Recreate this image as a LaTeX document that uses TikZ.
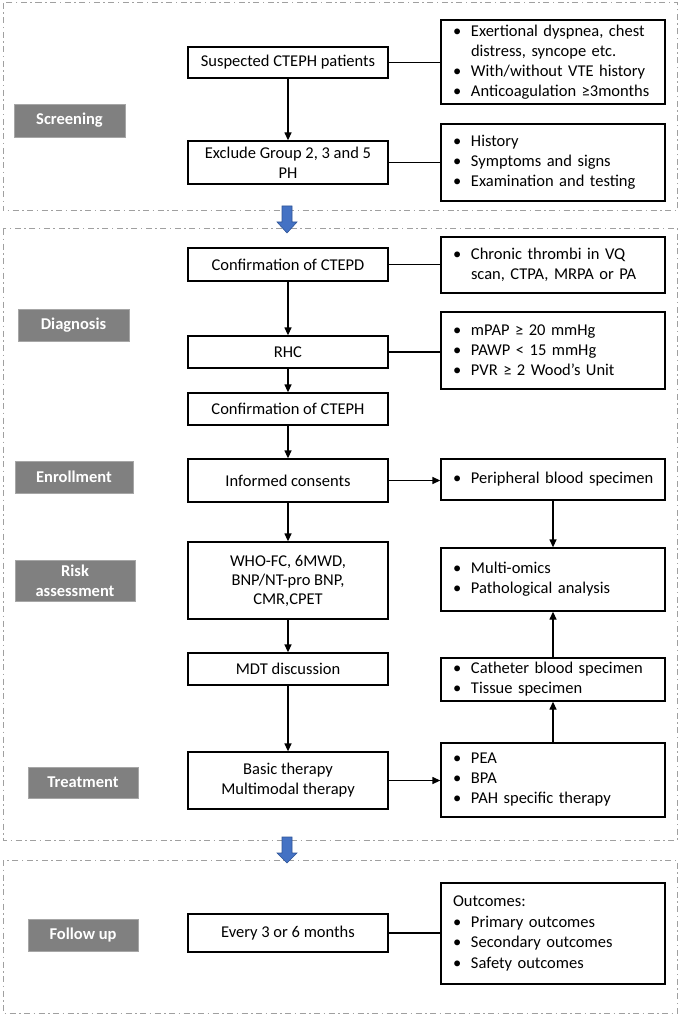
\documentclass[tikz,border=0pt]{standalone}
\usepackage{fontspec}
\setmainfont{Carlito}
\usetikzlibrary{arrows.meta}
\definecolor{labgray}{HTML}{808080}
\definecolor{panelgray}{HTML}{A0A0A0}
\definecolor{arrblue}{HTML}{4472C4}
\definecolor{arrblueline}{HTML}{2F5597}
\newcommand\bu{\makebox[18pt][l]{•}}
\newcommand\ind{\hspace*{18pt}}
\begin{document}
\begin{tikzpicture}[x=1pt,y=-1pt,
  every node/.style={font=\fontsize{16.5}{20}\selectfont},
  box/.style={draw=black, line width=1.3pt, minimum width=200pt, align=center, inner sep=0pt},
  rbox/.style={draw=black, line width=1.3pt, text width=200pt, inner xsep=12pt, inner ysep=0pt, align=left},
  lab/.style={fill=labgray, draw=labgray!70!white, line width=0.6pt, text=white, font=\bfseries\fontsize{16.5}{20}\selectfont, align=center, inner sep=0pt},
  panel/.style={draw=panelgray, line width=1pt, dash pattern=on 6pt off 3.5pt on 1.5pt off 3.5pt},
  arr/.style={-{Triangle[length=8pt,width=7pt]}, line width=1.3pt},
  ln/.style={line width=1.3pt},
  bluearr/.style={fill=arrblue, draw=arrblueline, line width=0.6pt}
]
\useasboundingbox (0,0) rectangle (679,1016);

% panels
\draw[panel] (3,3) rectangle (677,211);
\draw[panel] (3,229) rectangle (677,840);
\draw[panel] (3,860) rectangle (677,1013);

% blue block arrows
\coordinate (ba1) at (287,206);
\coordinate (ba2) at (287,837);
\draw[bluearr, shift={(ba1)}] (-5,0) -- (5,0) -- (5,16) -- (10,16) -- (0,27) -- (-10,16) -- (-5,16) -- cycle;
\draw[bluearr, shift={(ba2)}] (-5,0) -- (5,0) -- (5,16) -- (10,16) -- (0,26) -- (-10,16) -- (-5,16) -- cycle;

% stage labels
\node[lab, minimum width=111pt, minimum height=33pt] (lscr) at (69.5,120.5) {Screening};
\node[lab, minimum width=111pt, minimum height=32pt] (ldia) at (73.5,325) {Diagnosis};
\node[lab, minimum width=118pt, minimum height=32pt] (lenr) at (74,477) {Enrollment};
\node[lab, minimum width=120pt, minimum height=41pt] (lrisk) at (75,581) {Risk\\assessment};
\node[lab, minimum width=110pt, minimum height=31pt] (ltre) at (83,782.5) {Treatment};
\node[lab, minimum width=110pt, minimum height=32pt] (lfol) at (83,935) {Follow up};

% left column
\node[box, minimum height=31pt] (sus) at (288,62.5) {Suspected CTEPH patients};
\node[box, minimum height=43pt] (excl) at (288,162.5) {Exclude Group 2, 3 and 5\\PH};
\node[box, minimum height=33pt] (ctepd) at (288,264.5) {Confirmation of CTEPD};
\node[box, minimum height=32pt] (rhc) at (288,352) {RHC};
\node[box, minimum height=32pt] (cteph) at (288,409) {Confirmation of CTEPH};
\node[box, minimum height=43pt] (ic) at (288,480.5) {Informed consents};
\node[box, minimum height=77pt, font=\fontsize{16.5}{19}\selectfont] (who) at (288,580.5) {WHO-FC, 6MWD,\\BNP/NT-pro BNP,\\CMR,CPET};
\node[box, minimum height=32pt] (mdt) at (288,669) {MDT discussion};
\node[box, minimum height=57pt] (basic) at (288,780.5) {Basic therapy\\Multimodal therapy};
\node[box, minimum height=38pt] (every) at (288,933) {Every 3 or 6 months};

% right column
\node[rbox, minimum height=84pt] (r1) at (553,62) {\bu Exertional dyspnea, chest\\\ind distress, syncope etc.\\\bu With/without VTE history\\\bu Anticoagulation ≥3months};
\node[rbox, minimum height=77pt] (r2) at (553,162.5) {\bu History\\\bu Symptoms and signs\\\bu Examination and testing};
\node[rbox, minimum height=56pt] (r3) at (553,265) {\bu Chronic thrombi in VQ\\\ind scan, CTPA, MRPA or PA};
\node[rbox, minimum height=77pt] (r4) at (553,350.5) {\bu mPAP ≥ 20 mmHg\\\bu PAWP < 15 mmHg\\\bu PVR ≥ 2 Wood’s Unit};
\node[rbox, minimum height=41pt] (periph) at (553,479.5) {\bu\mbox{Peripheral blood specimen}};
\node[rbox, minimum height=63pt] (multi) at (553,579.5) {\bu Multi-omics\\\bu Pathological analysis};
\node[rbox, minimum height=43pt] (cath) at (553,679.5) {\bu\mbox{Catheter blood specimen}\\\bu Tissue specimen};
\node[rbox, minimum height=74pt] (pea) at (553,780) {\bu PEA\\\bu BPA\\\bu PAH specific therapy};
\node[rbox, minimum height=101pt, font=\fontsize{16.5}{20.5}\selectfont] (out) at (553,933.5) {Outcomes:\\\bu Primary outcomes\\\bu Secondary outcomes\\\bu Safety outcomes};

% vertical flow
\draw[arr] (sus) -- (excl);
\draw[arr] (ctepd) -- (rhc);
\draw[arr] (rhc) -- (cteph);
\draw[arr] (cteph) -- (ic);
\draw[arr] (ic) -- (who);
\draw[arr] (who) -- (mdt);
\draw[arr] (mdt) -- (basic);
\draw[arr] (periph) -- (multi);
\draw[arr] (pea) -- (cath);
\draw[arr] (cath) -- (multi);

% horizontal links
\draw[ln] (sus.east) -- (sus.east -| r1.west);
\draw[ln] (excl.east) -- (excl.east -| r2.west);
\draw[ln] (ctepd.east) -- (ctepd.east -| r3.west);
\draw[ln] (rhc.east) -- (rhc.east -| r4.west);
\draw[arr] (ic.east) -- (ic.east -| periph.west);
\draw[arr] (basic.east) -- (basic.east -| pea.west);
\draw[ln] (every.east) -- (every.east -| out.west);
\end{tikzpicture}
\end{document}
